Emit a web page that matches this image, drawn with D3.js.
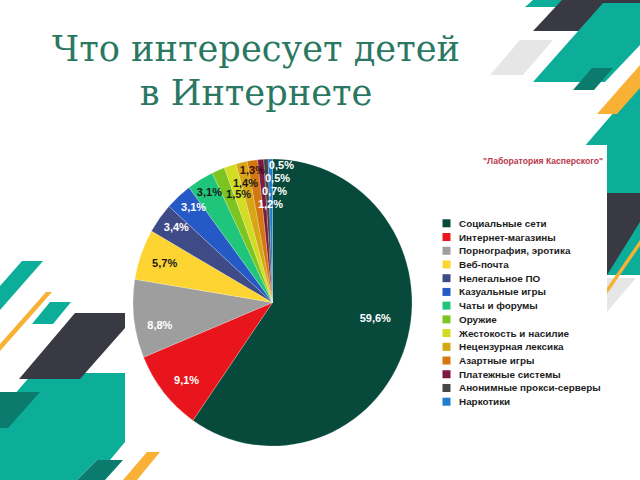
<!DOCTYPE html>
<html><head><meta charset="utf-8">
<script src="https://cdn.jsdelivr.net/npm/d3@7"></script>
<style>html,body{margin:0;padding:0;background:#fff;overflow:hidden} svg{display:block}</style>
</head><body><svg id="c" width="640" height="480"></svg>
<script>
// ---- data ----
const categories = ["Социальные сети","Интернет-магазины","Порнография, эротика","Веб-почта","Нелегальное ПО","Казуальные игры","Чаты и форумы","Оружие","Жестокость и насилие","Нецензурная лексика","Азартные игры","Платежные системы","Анонимные прокси-серверы","Наркотики"];
const values = [59.6, 9.1, 8.8, 5.7, 3.4, 3.1, 3.1, 1.5, 1.4, 1.3, 1.2, 0.7, 0.5, 0.5];
const titleLines = ["Что интересует детей", "в Интернете"];
const sourceText = "\"Лаборатория Касперского\"";

// ---- styles / layout ----
const sliceColors = ["#074a3b","#e8161c","#9e9e9e","#fdd431","#3f4b86","#2459c6","#1fc57a","#7cc520","#d2dc22","#d6a615","#d3780f","#7d1942","#464646","#1f7ccf"];
const labelInk = ["#fff","#fff","#fff","#1a1a1a","#fff","#fff","#1a1a1a","#1a1a1a","#1a1a1a","#3a1010","#fff","#fff","#fff","#fff"];
// label placement: [angle deg clockwise from 12 o'clock, radius px]
const labelPolar = [[98.8,104],[227.8,116],[258.5,115],[290.3,115],[308,122],[320.5,124],[330.2,127],[342.7,114],[347.3,123],[351.4,134.5],[358.8,99],[1.0,112],[2.3,125],[3.7,138]];

const svg = d3.select("#c");

// ---- decorative background shapes ----
const teal = "#0cad99", dteal = "#0b7b6e", navy = "#393944", orange = "#f8b134", lgray = "#e6e6e6";
const decor = [
  [teal, [[525,7],[533,0],[567,0],[560,7]]],
  [navy, [[533,31],[562,0],[640,0],[640,31]]],
  [teal, [[533,82],[603,3],[640,3],[640,45],[605,82]]],
  [lgray,[[490,75],[520,40],[553,40],[523,75]]],
  [dteal,[[573,90],[592,68],[613,68],[594,90]]],
  [teal, [[540,198],[640,82],[640,275],[540,275]]],
  [orange,[[597,114],[640,65],[640,88],[617,114]]],
  [navy, [[600,193],[640,193],[640,222],[607,275],[600,275]]],
  [lgray,[[600,278],[636,278],[600,320]]],
  [orange,[[600,298],[640,240],[640,246],[600,304]]],
  [teal, [[22,261],[43,261],[0,310],[0,286]]],
  [orange,[[46,292],[52,292],[0,351],[0,344]]],
  [teal, [[32,324],[50,302],[71,302],[53,324]]],
  [teal, [[33,373],[125,373],[125,442],[110,460],[97,460],[77,480],[0,480],[0,411]]],
  [navy, [[19,379],[75,313],[125,313],[125,328],[80,379]]],
  [dteal,[[0,392],[40,392],[8,428],[0,428]]],
  [dteal,[[77,480],[97,460],[123,460],[105,480]]]
];
svg.append("g").selectAll("polygon").data(decor).join("polygon")
  .attr("points", d => d[1].map(p => p.join(",")).join(" "))
  .attr("fill", d => d[0]);

// white panel holding the chart
svg.append("rect").attr("x",125).attr("y",145).attr("width",482).attr("height",303).attr("fill","#fff");
svg.append("polygon").attr("points","123,480 147,452 160,452 137,480").attr("fill",orange);

// ---- title ----
const title = svg.append("g");
const titleFont = "'DejaVu Serif', 'Liberation Serif', serif";
const tl = title.selectAll("text").data(titleLines).join("text")
  .attr("x", 256).attr("y", (d,i) => 61 + i*44)
  .attr("text-anchor","middle")
  .attr("font-family", titleFont)
  .attr("font-size", 32)
  .attr("fill", "#2b7862")
  .text(d => d);
// fit first line to the reference width
const w0 = tl.nodes()[0].getComputedTextLength();
const fs = 32 * 408 / w0;
tl.attr("font-size", fs);

// ---- source ----
svg.append("text").attr("x", 543).attr("y", 161)
  .attr("text-anchor","middle").attr("dominant-baseline","central")
  .attr("font-family","'Liberation Sans', Arial, sans-serif").attr("font-weight","bold")
  .attr("font-size", 8.6).attr("fill","#b8374a").text(sourceText);

// ---- pie ----
const cx = 272.5, cy = 302.5, R = 139.5, sy = 1.029;
const pie = d3.pie().sort(null).value(d => d);
const arcs = pie(values);
const arc = d3.arc().innerRadius(0).outerRadius(R);
svg.append("g").attr("transform", `translate(${cx},${cy}) scale(1,${sy})`)
  .selectAll("path").data(arcs).join("path")
  .attr("d", arc)
  .attr("fill", (d,i) => sliceColors[i])
  .attr("stroke", "rgba(255,255,255,0.35)").attr("stroke-width", 0.6);

const fmt = v => d3.format(".1f")(v).replace(".", ",") + "%";
svg.append("g").selectAll("text").data(values).join("text")
  .attr("x", (d,i) => cx + labelPolar[i][1] * Math.sin(labelPolar[i][0] * Math.PI/180))
  .attr("y", (d,i) => cy - labelPolar[i][1] * Math.cos(labelPolar[i][0] * Math.PI/180))
  .attr("text-anchor","middle").attr("dominant-baseline","central")
  .attr("font-family","'Liberation Sans', Arial, sans-serif").attr("font-weight","bold")
  .attr("font-size", 11)
  .attr("fill", (d,i) => labelInk[i])
  .text(fmt);

// ---- legend ----
const lg = svg.append("g");
const rowY = d3.scalePoint().domain(categories).range([223.3, 401.7]);
lg.selectAll("rect").data(categories).join("rect")
  .attr("x", 442.5).attr("y", d => rowY(d) - 4).attr("width", 8).attr("height", 8)
  .attr("fill", (d,i) => sliceColors[i]);
lg.selectAll("text").data(categories).join("text")
  .attr("x", 459).attr("y", d => rowY(d))
  .attr("dominant-baseline","central")
  .attr("font-family","'Liberation Sans', Arial, sans-serif").attr("font-weight","bold")
  .attr("font-size", 9.9).attr("fill","#1c1c1c")
  .text(d => d);
</script>
</body></html>
